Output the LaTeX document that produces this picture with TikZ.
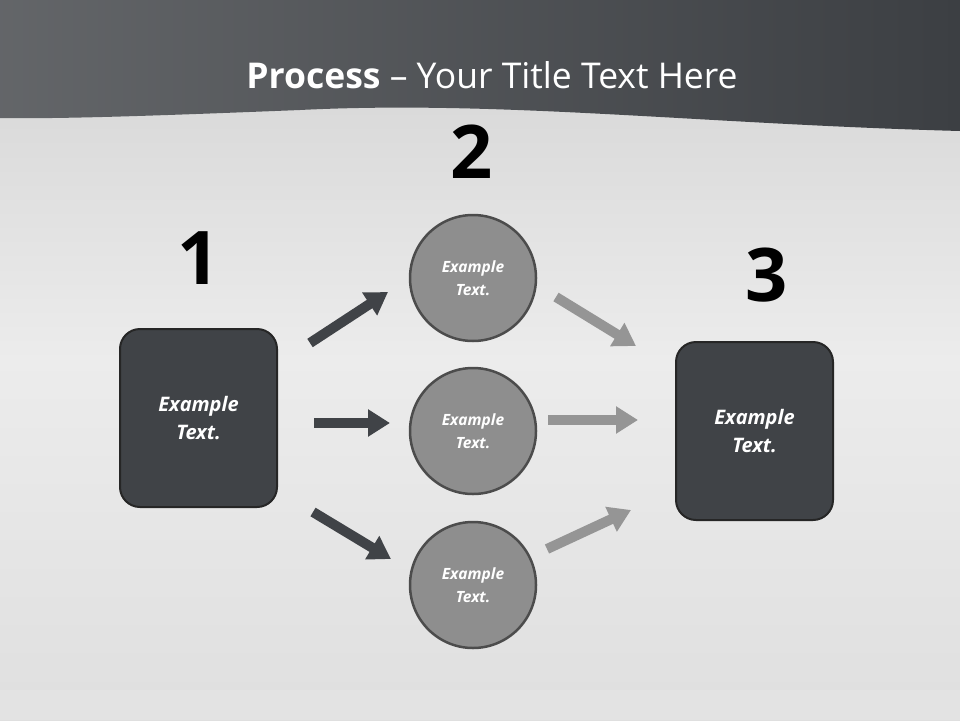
\documentclass[tikz,border=0pt]{standalone}
\usepackage{fontspec}
\setmainfont{Open Sans}
\usetikzlibrary{arrows.meta}
\definecolor{hdr}{HTML}{3C3F43}
\definecolor{boxc}{HTML}{404347}
\definecolor{circc}{HTML}{8E8E8E}
\definecolor{darr}{HTML}{404347}
\definecolor{larr}{HTML}{959595}
\tikzset{
  sq/.style={draw=black!85,line width=2pt,fill=boxc,rounded corners=20pt,minimum width=157pt,minimum height=178pt,text=white,font=\bfseries\itshape\fontsize{20}{28}\selectfont,align=center},
  circ/.style={circle,draw=black!70,line width=2.5pt,fill=circc,minimum size=126pt,text=white,font=\bfseries\itshape\fontsize{15.5}{23}\selectfont,align=center},
  num/.style={font=\bfseries\fontsize{74}{74}\selectfont,text=black},
  darrow/.style={draw=darr,line width=10pt,-{Triangle[length=22pt,width=26pt]}},
  larrow/.style={draw=larr,line width=10pt,-{Triangle[length=22pt,width=26pt]}}
}
\begin{document}
\begin{tikzpicture}[x=1pt,y=-1pt]
\useasboundingbox (0,0) rectangle (960,720);
\shade[top color=gray!35,bottom color=gray!25,middle color=gray!15] (0,0) rectangle (960,720);
\fill[gray!22] (0,690) rectangle (960,720);
\shade[left color=hdr!80,right color=hdr] (0,0) -- (960,0) -- (960,131) .. controls (700,124) and (500,100) .. (300,110) .. controls (150,116) and (60,119) .. (0,118) -- cycle;
\node[text=white,font=\fontsize{35.5}{36}\selectfont] (title) at (492,75) {\textbf{Process} – Your Title Text Here};
\node[num] (n1) at (199,258) {1};
\node[num] (n2) at (472,152) {2};
\node[num] (n3) at (767,275) {3};
\node[sq] (b1) at (198.5,418) {Example\\Text.};
\node[sq] (b3) at (754.5,431) {Example\\Text.};
\node[circ] (c1) at (473,278) {Example\\Text.};
\node[circ] (c2) at (473,431) {Example\\Text.};
\node[circ] (c3) at (473,585) {Example\\Text.};
\coordinate (a1s) at (310,343); \coordinate (a1e) at (388,292);
\coordinate (a2s) at (314,423); \coordinate (a2e) at (390,423);
\coordinate (a3s) at (313,512); \coordinate (a3e) at (391,559);
\coordinate (b1s) at (556,297); \coordinate (b1e) at (636,346);
\coordinate (b2s) at (548,420); \coordinate (b2e) at (638,420);
\coordinate (b3s) at (547,549); \coordinate (b3e) at (631,510);
\draw[darrow] (a1s) -- (a1e);
\draw[darrow] (a2s) -- (a2e);
\draw[darrow] (a3s) -- (a3e);
\draw[larrow] (b1s) -- (b1e);
\draw[larrow] (b2s) -- (b2e);
\draw[larrow] (b3s) -- (b3e);
\end{tikzpicture}
\end{document}
